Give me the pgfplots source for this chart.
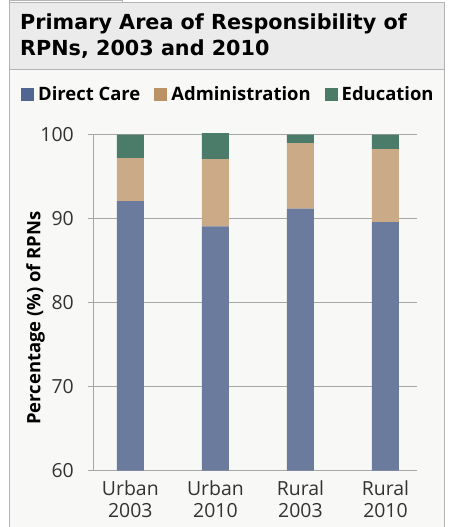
\documentclass[border=0pt]{standalone}
\usepackage{fontspec}
\setmainfont{Open Sans}
\newfontfamily\titlefont{DejaVu Sans}
\usepackage{pgfplots}
\usepackage{pgfplotstable}
\pgfplotsset{compat=1.18}

\definecolor{carecol}{HTML}{6B7B9D}
\definecolor{admincol}{HTML}{CBAA87}
\definecolor{educol}{HTML}{4B7C69}
\definecolor{carekey}{HTML}{506592}
\definecolor{adminkey}{HTML}{BB9266}
\definecolor{edukey}{HTML}{4A7B67}
\definecolor{gridgray}{HTML}{A6A6A6}
\definecolor{framegray}{HTML}{B4B4B4}
\definecolor{titlebg}{HTML}{EBEBEB}
\definecolor{panelbg}{HTML}{F8F8F6}
\definecolor{ticktext}{HTML}{333333}

% Share of RPNs by primary area of responsibility (%)
\pgfplotstableread{
x care admin edu
0 92.1 5.1 2.8
1 89.1 8.0 3.1
2 91.2 7.8 1.0
3 89.6 8.7 1.7
}\rpns

\begin{document}
\begin{tikzpicture}[x=1bp,y=1bp]
\useasboundingbox (0,0) rectangle (450,-527);
\fill[white] (0,0) rectangle (450,-527);
% panel and title band
\fill[panelbg] (9.5,-70) rectangle (444.5,-527);
\fill[titlebg] (9.5,-3) rectangle (444.5,-70);
\draw[framegray, line width=1bp] (9.5,-527) -- (9.5,-3) -- (444.5,-3) -- (444.5,-527);
\draw[framegray, line width=1bp] (9.5,-70) -- (444.5,-70);
\draw[framegray, line width=0.8bp] (9.5,-3) -- (9.5,-0.5) -- (122,-0.5) -- (122,-3);
% title
\node[anchor=base west, inner sep=0, font=\titlefont\bfseries\fontsize{20.8}{26}\selectfont] at (20,-29.5) {Primary Area of Responsibility of};
\node[anchor=base west, inner sep=0, font=\titlefont\bfseries\fontsize{20.8}{26}\selectfont] at (20,-56) {RPNs, 2003 and 2010};

\begin{axis}[
  at={(93bp,-470.7bp)}, anchor=south west,
  scale only axis, width=319bp, height=338.5bp,
  ybar stacked, bar width=27bp,
  xmin=-0.439, xmax=3.312,
  ymin=60, ymax=100.3,
  axis line style={draw=none},
  ytick={60,70,80,90,100},
  xtick={0,1,2,3},
  xticklabels={{Urban\\2003},{Urban\\2010},{Rural\\2003},{Rural\\2010}},
  ymajorgrids,
  major grid style={gridgray, line width=1.5bp},
  tick align=outside, major tick length=5bp,
  ytick style={draw=gridgray, line width=1.5bp},
  xtick style={draw=none},
  /pgf/number format/assume math mode=true,
  xticklabel style={text=ticktext, font=\fontsize{19.5}{22}\selectfont,
    align=center, anchor=north, yshift=-2bp},
  yticklabel style={text=ticktext, font=\fontsize{19.5}{22}\selectfont,
    anchor=east, inner sep=0pt, xshift=-14bp},
  ylabel={Percentage (\%) of RPNs},
  ylabel style={font=\bfseries\fontsize{18.5}{20}\selectfont, at={(axis description cs:-0.18,0.451)}, anchor=center},
  legend columns=-1,
  legend style={at={(axis description cs:-0.2257,1.111)}, anchor=west,
    draw=none, fill=none, inner sep=0pt,
    font=\bfseries\fontsize{18.5}{20}\selectfont,
    nodes={inner sep=0pt},
    /tikz/every odd column/.style={column sep=4bp},
    /tikz/every even column/.style={column sep=14bp}},
]
\draw[gridgray, line width=2bp] (axis cs:-0.439,60) -- (axis cs:-0.439,100);
\addplot[fill=carecol, draw=none,
  legend image code/.code={\fill[carekey] (0bp,-6.5bp) rectangle (13bp,6.5bp);}]
  table[x=x, y=care]{\rpns};
\addplot[fill=admincol, draw=none,
  legend image code/.code={\fill[adminkey] (0bp,-6.5bp) rectangle (13bp,6.5bp);}]
  table[x=x, y=admin]{\rpns};
\addplot[fill=educol, draw=none,
  legend image code/.code={\fill[edukey] (0bp,-6.5bp) rectangle (13bp,6.5bp);}]
  table[x=x, y=edu]{\rpns};
\legend{Direct Care, Administration, Education}
\end{axis}
\end{tikzpicture}
\end{document}
